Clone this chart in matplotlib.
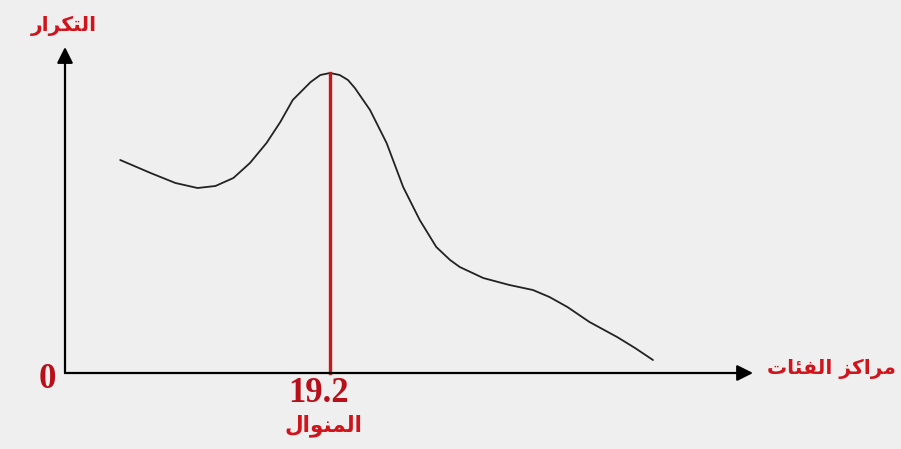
import numpy as np
import matplotlib.pyplot as plt

# class centres and frequencies of the smooth frequency curve
centres = [4.0, 6.2, 8.0, 9.6, 10.9, 12.2, 13.4, 14.6, 15.6, 16.5, 17.8, 18.5,
           19.2, 19.9, 20.5, 21.0, 22.1, 23.3, 24.5, 25.7, 26.9, 27.9, 28.6,
           30.3, 32.2, 33.9, 35.1, 36.4, 38.0, 40.0, 41.3, 42.6]
freqs = [21.3, 20.0, 19.0, 18.5, 18.7, 19.5, 21.0, 23.0, 25.1, 27.3, 29.1, 29.8,
         30.0, 29.8, 29.3, 28.5, 26.3, 23.0, 18.6, 15.3, 12.6, 11.3, 10.6,
         9.5, 8.8, 8.3, 7.6, 6.6, 5.1, 3.6, 2.5, 1.3]
mode = 19.2

# Arabic labels written in presentation forms (visual order)
lbl_freq = '\uFEAD\uFE8D\uFEAE\uFEDC\uFE98\uFEDF\uFE8D'            # التكرار
lbl_centres = ('\uFE95\uFE8E\uFE8C\uFED4\uFEDF\uFE8D '
               '\uFEB0\uFEDB\uFE8D\uFEAE\uFEE3')                   # مراكز الفئات
lbl_mode = '\uFEDD\uFE8D\uFEEE\uFEE8\uFEE4\uFEDF\uFE8D'            # المنوال

red = '#d0141c'
bg = '#efefef'

fig = plt.figure(figsize=(9.01, 4.49), dpi=100, facecolor=bg)
ax = fig.add_axes([0, 0, 1, 1])
ax.set_facecolor(bg)
ax.set_xlim(-4.71, 60.57)
ax.set_ylim(-7.6, 37.3)
ax.axis('off')

# axes with arrow heads
arrow = dict(arrowstyle='-|>,head_length=0.6,head_width=0.3', mutation_scale=16,
             color='black', lw=1.6, shrinkA=0, shrinkB=0)
ax.annotate('', xy=(49.85, 0), xytext=(0, 0), arrowprops=arrow)
ax.annotate('', xy=(0, 32.6), xytext=(0, 0), arrowprops=arrow)

# frequency curve
ax.plot(centres, freqs, color='#222222', lw=1.3, solid_capstyle='round',
        solid_joinstyle='round')

# mode line
peak = freqs[centres.index(mode)]
ax.plot([mode, mode], [0, peak], color='#c8161e', lw=2.4)

ax.text(-0.1, 34.7, lbl_freq, color=red, fontsize=14.5, fontweight='bold',
        family='DejaVu Sans', ha='center', va='center')
ax.text(55.5, 0.4, lbl_centres, color=red, fontsize=14.5, fontweight='bold',
        family='DejaVu Sans', ha='center', va='center')
ax.text(-1.3, -0.7, '0', color='#b8101a', fontsize=25, fontweight='bold',
        family='Liberation Serif', ha='center', va='center')
ax.text(18.4, -2.1, f'{mode}', color='#b8101a', fontsize=25, fontweight='bold',
        family='Liberation Serif', ha='center', va='center')
ax.text(18.7, -5.3, lbl_mode, color=red, fontsize=15.5, fontweight='bold',
        family='DejaVu Sans', ha='center', va='center')

fig.savefig('out.png', dpi=100, facecolor=bg)
